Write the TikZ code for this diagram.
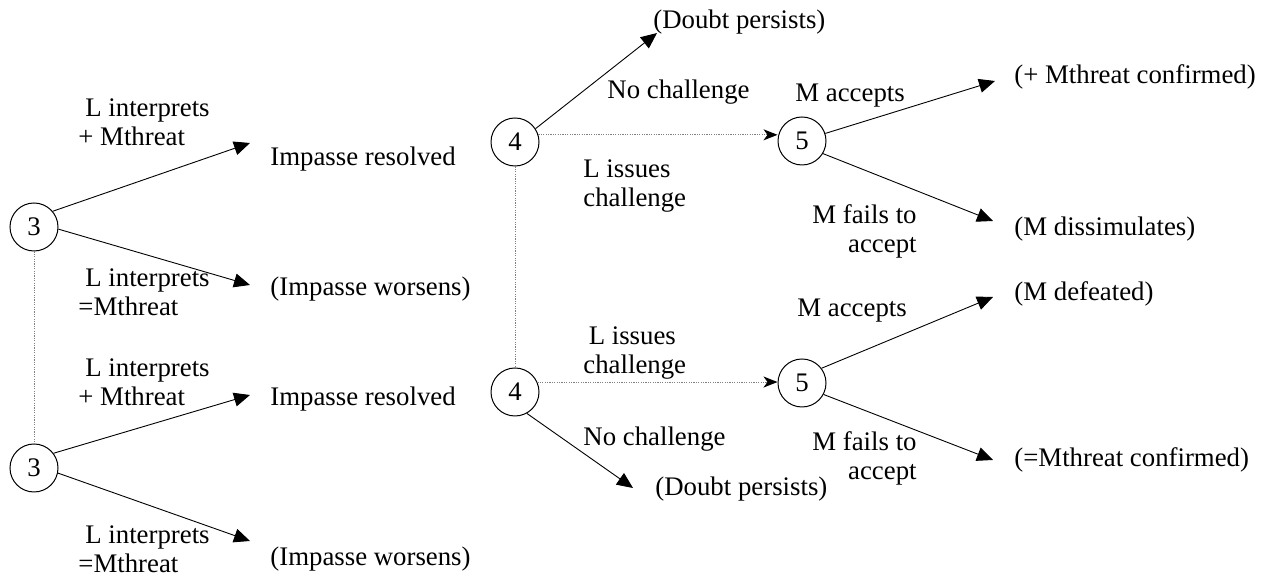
\documentclass[tikz,border=0pt]{standalone}
\usepackage{fontspec}
\setmainfont{Liberation Serif}
\usetikzlibrary{arrows.meta}
\begin{document}
\begin{tikzpicture}[x=0.5pt,y=-0.5pt,
  every node/.style={font=\fontsize{13.4}{14.6}\selectfont, inner sep=0pt},
  dec/.style={draw, circle, minimum size=24pt, line width=0.5pt},
  arr/.style={line width=0.45pt, -{Triangle[length=8pt,width=7pt]}},
  darr/.style={line width=0.5pt, gray, dash pattern=on 0.6pt off 0.6pt, -{Stealth[length=7pt,width=5.5pt,inset=2pt,black]}},
  dline/.style={line width=0.5pt, gray, dash pattern=on 0.6pt off 0.6pt},
  lab/.style={anchor=north west, align=left},
  labr/.style={anchor=north east, align=right},
  outtxt/.style={anchor=base west}]
\useasboundingbox (0,0) rectangle (1265,581);

% decision nodes
\node[dec] (c3a) at (34,227) {3};
\node[dec] (c3b) at (34,468) {3};
\node[dec] (c4a) at (515,142) {4};
\node[dec] (c4b) at (515,392) {4};
\node[dec] (c5a) at (802,141) {5};
\node[dec] (c5b) at (802,383) {5};

% outcome texts
\node[outtxt] (o1) at (270,166) {Impasse resolved};
\node[outtxt] (o2) at (270,296) {(Impasse worsens)};
\node[outtxt] (o3) at (270,406) {Impasse resolved};
\node[outtxt] (o4) at (270,566) {(Impasse worsens)};
\node[outtxt] (o5) at (653,29) {(Doubt persists)};
\node[outtxt] (o6) at (655,496) {(Doubt persists)};
\node[outtxt] (o7) at (1014,84) {(+ Mthreat confirmed)};
\node[outtxt] (o8) at (1014,236) {(M dissimulates)};
\node[outtxt] (o9) at (1014,301) {(M defeated)};
\node[outtxt] (o10) at (1014,467) {(=Mthreat confirmed)};

% arrow tips
\coordinate (t1) at (250,143);
\coordinate (t2) at (250,285);
\coordinate (t3) at (250,395);
\coordinate (t4) at (250,541);
\coordinate (t5) at (657,33);
\coordinate (t6) at (633,488);
\coordinate (t7) at (995,81);
\coordinate (t8) at (993,221);
\coordinate (t9) at (993,297);
\coordinate (t10) at (993,460);

% branch labels
\node[lab] (l1) at (78,98) {\hspace*{0.26em}L interprets\\+ Mthreat};
\node[lab] (l2) at (78,268) {\hspace*{0.26em}L interprets\\=Mthreat};
\node[lab] (l3) at (78,358) {\hspace*{0.26em}L interprets\\+ Mthreat};
\node[lab] (l4) at (78,525) {\hspace*{0.26em}L interprets\\=Mthreat};
\node[outtxt] (n1) at (607,99) {No challenge};
\node[lab] (i1) at (583,159) {L issues\\challenge};
\node[lab] (i2) at (583,326) {\hspace*{0.2em}L issues\\challenge};
\node[outtxt] (n2) at (583,446) {No challenge};
\node[outtxt] (a1) at (795,102) {M accepts};
\node[labr] (f1) at (917,204) {M fails to\\accept};
\node[outtxt] (a2) at (797,317) {M accepts};
\node[labr] (f2) at (917,431) {M fails to\\accept};

% connectors
\draw[dline] (c3a.south) -- (c3b.north);
\draw[dline] (c4a.south) -- (c4b.north);
\draw[arr] (c3a.40) -- (t1);
\draw[arr] (c3a.-5) -- (t2);
\draw[arr] (c3b.37) -- (t3);
\draw[arr] (c3b.-12) -- (t4);
\draw[arr] (c4a.33) -- (t5);
\draw[arr] (c4b.-61) -- (t6);
\draw[darr] (c4a.17) -- (c4a.17 -| c5a.west);
\draw[darr] (c4b.24) -- (c4b.24 -| c5b.west);
\draw[arr] (c5a.18) -- (t7);
\draw[arr] (c5a.-31) -- (t8);
\draw[arr] (c5b.37) -- (t9);
\draw[arr] (c5b.-28) -- (t10);
\end{tikzpicture}
\end{document}
